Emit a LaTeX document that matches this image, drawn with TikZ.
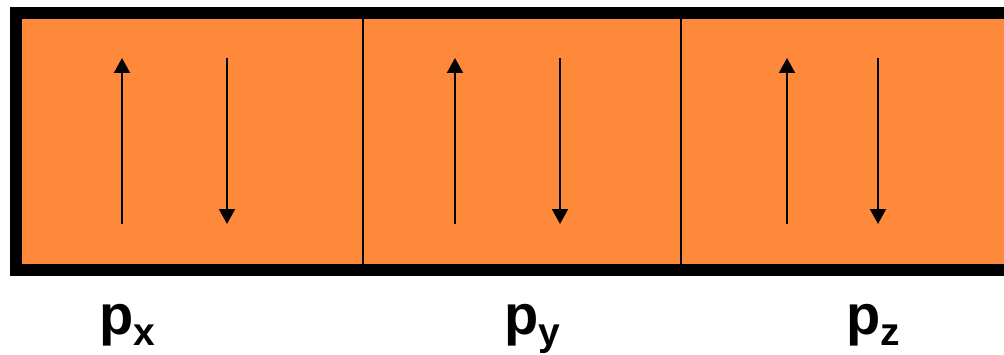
\documentclass[tikz,border=0pt]{standalone}
\usepackage{fontspec}
\setmainfont{Liberation Sans}
\usepackage{tikz}
\usetikzlibrary{
  arrows.meta,%
  positioning
}
\definecolor{boxorange}{RGB}{254,137,58}
\tikzset{>={Triangle[width=16pt, length=15pt]}}
\tikzset{spin/.style={->, line width=2pt}}
\tikzset{orblabel/.style={anchor=base, inner sep=0pt, font=\fontsize{56}{60}\selectfont\bfseries}}
\newcommand{\orbsub}[1]{\raisebox{-11pt}{\fontsize{39}{40}\selectfont #1}}

\begin{document}
\begin{tikzpicture}[x=1pt, y=1pt]
                \useasboundingbox (0, 0) rectangle (1004, 354);%
                \clip (0, 0) rectangle (1004, 354);%
                \draw [line width=12pt, fill=boxorange] (16, 84) rectangle (1030, 341);%
                \draw [line width=1.5pt] (363, 90) -- (363, 335);%
                \draw [line width=1.5pt] (681, 90) -- (681, 335);%
                % paired electrons in each orbital
                \foreach \up/\down in {122/227, 455/560, 787/878} {%
                  \draw [spin] (\up, 130) -- (\up, 296);%
                  \draw [spin] (\down, 296) -- (\down, 130);%
                }
                \node [orblabel] (px) at (127, 20) {p\orbsub{x}};%
                \node [orblabel] (py) at (532, 20) {p\orbsub{y}};%
                \node [orblabel] (pz) at (873, 20) {p\orbsub{z}};%
              \end{tikzpicture}
\end{document}
